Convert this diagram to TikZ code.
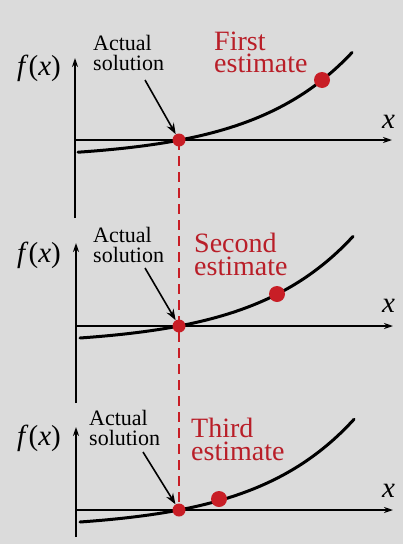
\documentclass[tikz,border=0pt]{standalone}
\usepackage{fontspec}
\setmainfont{Liberation Serif}
\usetikzlibrary{arrows.meta}
\definecolor{bg}{RGB}{219,219,219}
\definecolor{dotred}{RGB}{200,30,38}
\definecolor{txtred}{RGB}{185,30,40}
\tikzset{
  axis/.style={line width=1.5pt,-{Stealth[length=9pt,width=6pt]}},
  curve/.style={line width=3pt,line cap=round},
  rootdot/.style={circle,fill=dotred,inner sep=0pt,minimum size=13pt},
  estdot/.style={circle,fill=dotred,inner sep=0pt,minimum size=16pt},
  actual/.style={anchor=base west,inner sep=0pt,align=left,font=\fontsize{22}{20}\selectfont},
  estlabel/.style={anchor=base west,inner sep=0pt,align=left,text=txtred,font=\fontsize{28}{22.5}\selectfont},
  flabel/.style={anchor=base west,inner sep=0pt,font=\fontsize{29}{30}\selectfont},
  pointer/.style={line width=1.6pt,-{Stealth[length=11pt,width=8pt]}},
  guide/.style={line width=1.5pt,dotred,dash pattern=on 10pt off 6pt}
}
\begin{document}
\begin{tikzpicture}[x=1pt,y=-1pt]
\fill[bg] (0,0) rectangle (403,544);
\useasboundingbox (0,0) rectangle (403,544);
% roots
\coordinate (r1) at (179,140);
\coordinate (r2) at (179,326);
\coordinate (r3) at (179,510);
\draw[guide] (r1) -- (r3);
% panel 1
\coordinate (y1a) at (75,218); \coordinate (y1b) at (75,58);
\coordinate (x1a) at (75,140); \coordinate (x1b) at (392,140);
\draw[axis] (y1a) -- (y1b);
\draw[axis] (x1a) -- (x1b);
\draw[curve] plot[domain=78:352,samples=80] (\x,{140-19.1*(exp(0.01*(\x-180))-1)});
% panel 2
\coordinate (y2a) at (76,403); \coordinate (y2b) at (76,243);
\coordinate (x2a) at (76,326); \coordinate (x2b) at (393,326);
\draw[axis] (y2a) -- (y2b);
\draw[axis] (x2a) -- (x2b);
\draw[curve] plot[domain=80:353,samples=80] (\x,{326-19.1*(exp(0.01*(\x-179))-1)});
% panel 3
\coordinate (y3a) at (76,537); \coordinate (y3b) at (76,427);
\coordinate (x3a) at (76,510); \coordinate (x3b) at (393,510);
\draw[axis] (y3a) -- (y3b);
\draw[axis] (x3a) -- (x3b);
\draw[curve] plot[domain=80:354,samples=80] (\x,{510-19.1*(exp(0.01*(\x-179))-1)});
% dots
\node[rootdot] (root1) at (r1) {};
\node[rootdot] (root2) at (r2) {};
\node[rootdot] (root3) at (r3) {};
\node[estdot] (est1) at (322,80) {};
\node[estdot] (est2) at (277,294) {};
\node[estdot] (est3) at (219,499) {};
% labels (anchor = baseline of last line)
\node[actual] (act1) at (93,70) {Actual\\solution};
\node[actual] (act2) at (93,262) {Actual\\solution};
\node[actual] (act3) at (89,445) {Actual\\solution};
\node[estlabel] (lab1) at (214,72.5) {First\\estimate};
\node[estlabel] (lab2) at (194,275) {Second\\estimate};
\node[estlabel] (lab3) at (191,460) {Third\\estimate};
\node[flabel] (f1) at (17,75) {\textit{f}(\textit{x})};
\node[flabel] (f2) at (17,262) {\textit{f}(\textit{x})};
\node[flabel] (f3) at (17,445) {\textit{f}(\textit{x})};
\node[flabel] (xl1) at (382,128) {\textit{x}};
\node[flabel] (xl2) at (382,312) {\textit{x}};
\node[flabel] (xl3) at (382,497) {\textit{x}};
% pointers
\coordinate (p1) at (145,80);
\coordinate (p2) at (145,268);
\coordinate (p3) at (143,452);
\draw[pointer] (p1) -- (root1);
\draw[pointer] (p2) -- (root2);
\draw[pointer] (p3) -- (root3);
\end{tikzpicture}
\end{document}
